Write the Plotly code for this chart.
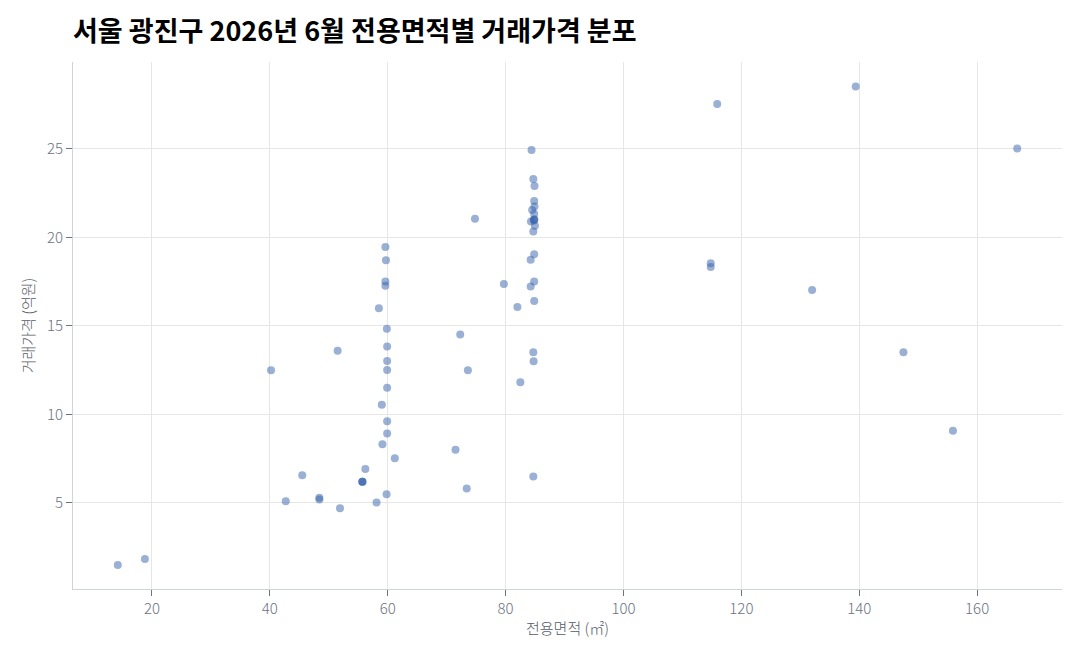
import plotly.graph_objects as go

# 전용면적 (㎡)
area = [14.2, 18.8, 40.2, 42.7, 45.5, 48.4, 48.4, 51.5, 51.9,
        55.7, 55.7, 55.7, 56.2, 58.1, 58.5, 59.0, 59.1, 59.6, 59.7,
        59.6, 59.6, 59.85, 59.9, 59.9, 59.9, 59.9, 59.9, 59.9,
        61.2, 59.8, 71.5, 72.3, 73.4, 73.6, 74.8, 79.7, 82.0, 82.5,
        84.4, 84.7, 84.9, 84.85, 84.9, 84.5, 84.85, 84.8, 84.9, 84.8,
        84.3, 84.97, 84.7, 84.85, 84.25, 84.85, 84.25, 84.85, 84.7,
        84.75, 84.7,
        114.8, 114.8, 115.9, 132.0, 139.4, 147.5, 155.9, 166.8]

# 거래가격 (억원)
price = [1.5, 1.84, 12.5, 5.1, 6.56, 5.3, 5.2, 13.6, 4.7,
         6.2, 6.2, 6.2, 6.92, 5.02, 16.0, 10.54, 8.32, 19.46, 18.71,
         17.5, 17.26, 14.83, 13.83, 13.02, 12.51, 11.51, 9.62, 8.92,
         7.53, 5.49, 8.01, 14.51, 5.81, 12.5, 21.05, 17.37, 16.07, 11.82,
         24.93, 23.3, 22.9, 22.05, 21.74, 21.54, 21.33, 21.0, 21.0, 20.95,
         20.9, 20.65, 20.33, 19.05, 18.73, 17.5, 17.22, 16.41, 13.51,
         13.0, 6.49,
         18.54, 18.32, 27.53, 17.02, 28.52, 13.51, 9.07, 25.02]

x_ticks = [20, 40, 60, 80, 100, 120, 140, 160]
y_ticks = [5, 10, 15, 20, 25]

title_text = "서울 광진구 2026년 6월 전용면적별 거래가격 분포"
x_title = "전용면적 (㎡)"
y_title = "거래가격 (억원)"

font_family = "Noto Sans CJK KR"

fig = go.Figure()
fig.add_trace(go.Scatter(
    x=area, y=price, mode="markers",
    marker=dict(size=8, color="rgba(53,97,169,0.5)", line=dict(width=0)),
    showlegend=False,
))

axis_common = dict(
    showgrid=True, gridcolor="#e6e6e6", gridwidth=1,
    showline=True, linecolor="#cfd3da", linewidth=1,
    ticks="outside", ticklen=6, tickcolor="#6b7280", tickwidth=1,
    tickfont=dict(family=font_family, size=15, color="#6b7280", weight=300),
    zeroline=False,
)

fig.update_layout(
    width=1080, height=660,
    paper_bgcolor="white", plot_bgcolor="white",
    margin=dict(l=73, r=18, t=62, b=71),
    title=dict(text=title_text, x=0, xref="paper", xanchor="left",
               y=1 - 32 / 660, yanchor="middle",
               font=dict(family=font_family, size=27, color="#000000", weight="bold")),
    xaxis=dict(range=[6.6, 174.4], tickvals=x_ticks,
               title=dict(text=x_title, standoff=6,
                          font=dict(family=font_family, size=15, color="#555b66", weight=300)),
               **axis_common),
    yaxis=dict(range=[0.14, 29.9], tickvals=y_ticks,
               title=dict(text=y_title, standoff=8,
                          font=dict(family=font_family, size=15, color="#555b66", weight=300)),
               **axis_common),
    font=dict(family=font_family),
)

fig.write_html("out.html")
